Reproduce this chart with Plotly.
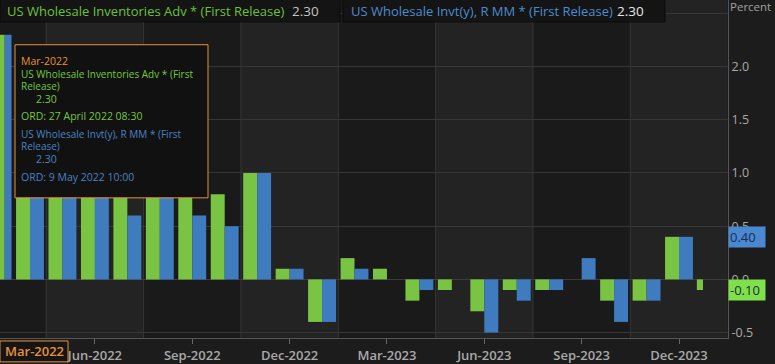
import plotly.graph_objects as go

months = ["Mar-2022", "Apr-2022", "May-2022", "Jun-2022", "Jul-2022", "Aug-2022",
          "Sep-2022", "Oct-2022", "Nov-2022", "Dec-2022", "Jan-2023", "Feb-2023",
          "Mar-2023", "Apr-2023", "May-2023", "Jun-2023", "Jul-2023", "Aug-2023",
          "Sep-2023", "Oct-2023", "Nov-2023", "Dec-2023", "Jan-2024"]
adv_values = [2.3, 2.1, 2.0, 1.9, 0.8, 1.3, 0.8, 0.8, 1.0, 0.1, -0.4, 0.2,
              0.1, -0.2, -0.1, -0.3, -0.1, -0.1, 0.0, -0.2, -0.2, 0.4, -0.1]
rmm_values = [2.3, 2.2, 1.8, 1.8, 0.6, 1.3, 0.6, 0.5, 1.0, 0.1, -0.4, 0.1,
              0.0, -0.1, 0.0, -0.5, -0.2, -0.1, 0.2, -0.4, -0.2, 0.4, None]
tick_labels = ["Jun-2022", "Sep-2022", "Dec-2022", "Mar-2023", "Jun-2023",
               "Sep-2023", "Dec-2023"]
y_ticks = [-0.5, 0.0, 0.5, 1.0, 1.5, 2.0, 2.5]

adv_name = "US Wholesale Inventories Adv * (First Release)"
rmm_name = "US Wholesale Invt(y), R MM * (First Release)"

GREEN = "#79c443"
BLUE = "#3f7cbf"
ORANGE = "#e8903c"
W, H = 775, 364
ML, MR, MT, MB = 0, 47, 0, 24
PW, PH = W - ML - MR, H - MT - MB

n = len(months)
bw = 0.43
# style: regular groups, with narrower edge groups as in the original
g_off = [-bw] * n
g_w = [bw] * n
b_off = [0.0] * n
b_w = [bw] * n
g_off[0], g_w[0] = 0.0, 0.22
b_off[0], b_w[0] = 0.22, 0.21
g_off[-1], g_w[-1] = -0.45, 0.19

fig = go.Figure()
fig.add_trace(go.Bar(x=months, y=adv_values, name=adv_name, marker_color=GREEN,
                     marker_line_width=0, offset=g_off, width=g_w))
fig.add_trace(go.Bar(x=months, y=rmm_values, name=rmm_name, marker_color=BLUE,
                     marker_line_width=0, offset=b_off, width=b_w))

shapes = []
# alternating bands
for a in [1.5, 7.5, 13.5, 19.5]:
    shapes.append(dict(type="rect", xref="x", yref="paper", x0=a, x1=a + 3, y0=0, y1=1,
                       fillcolor="#232323", line_width=0, layer="below"))
for a in [1.5, 4.5, 7.5, 10.5, 13.5, 16.5, 19.5]:
    shapes.append(dict(type="line", xref="x", yref="paper", x0=a, x1=a, y0=0, y1=1,
                       line=dict(color="#363636", width=1), layer="below"))


def px(xp):
    return xp / PW


def py(yp):
    return 1 - yp / PH


# header legend boxes
shapes.append(dict(type="rect", xref="paper", yref="paper", x0=px(0), x1=px(340),
                   y0=py(22), y1=py(-2), fillcolor="#141414",
                   line=dict(color="#0b0b0b", width=1), layer="above"))
shapes.append(dict(type="rect", xref="paper", yref="paper", x0=px(343), x1=px(665),
                   y0=py(22), y1=py(-2), fillcolor="#141414",
                   line=dict(color="#0b0b0b", width=1), layer="above"))
# tooltip box
shapes.append(dict(type="rect", xref="paper", yref="paper", x0=px(15), x1=px(208),
                   y0=py(199), y1=py(45), fillcolor="#111111",
                   line=dict(color=ORANGE, width=1), layer="above"))
# crosshair x label box
shapes.append(dict(type="rect", xref="paper", yref="paper", x0=px(0), x1=px(68),
                   y0=py(364), y1=py(343), fillcolor="#151515",
                   line=dict(color=ORANGE, width=1), layer="above"))

FONT = "Open Sans"
ann = []


def text(x, y, s, color, size, anchor="left", weight=None, **kw):
    f = dict(family=FONT, size=size, color=color)
    if weight:
        f["weight"] = weight
    ann.append(dict(x=px(x), y=py(y), xref="paper", yref="paper", text=s,
                    showarrow=False, xanchor=anchor, yanchor="middle", font=f, **kw))


# header legend texts
text(5, 11, adv_name, "#6cc23c", 13)
text(290, 11, f"{adv_values[0]:.2f}", "#c4c4c4", 13.5)
text(349, 11, rmm_name, "#4d8bd0", 13)
text(615, 11, f"{rmm_values[0]:.2f}", "#e6e6e6", 13.5)
text(728, 7, "Percent", "#a0a0a0", 11.5)

# tooltip texts
TG, TB = "#74c83e", "#4a82c4"
text(19, 61, months[0], ORANGE, 10.5)
text(19, 74, "US Wholesale Inventories Adv * (First", TG, 10)
text(19, 86.5, "Release)", TG, 10)
text(34, 99.5, f"{adv_values[0]:.2f}", TG, 10.5)
text(19, 117, "ORD: 27 April 2022 08:30", TG, 10.5)
text(19, 134.5, "US Wholesale Invt(y), R MM * (First", TB, 10)
text(19, 147, "Release)", TB, 10)
text(34, 160, f"{rmm_values[0]:.2f}", TB, 10.5)
text(19, 178, "ORD: 9 May 2022 10:00", TB, 10.5)

# crosshair x label
text(34, 353.5, months[0], ORANGE, 13, anchor="center", weight=600)

# last value tags on the right axis
ann.append(dict(x=1, y=rmm_values[-2], xref="paper", yref="y", text=f"{rmm_values[-2]:.2f}",
                showarrow=False, xanchor="left", yanchor="middle",
                bgcolor="#4a89d2", borderpad=1, width=34, align="left",
                font=dict(family=FONT, size=13, color="#1b2c55")))
ann.append(dict(x=1, y=adv_values[-1], xref="paper", yref="y", text=f"{adv_values[-1]:.2f}",
                showarrow=False, xanchor="left", yanchor="middle",
                bgcolor="#80e04a", borderpad=1, width=34, align="left",
                font=dict(family=FONT, size=13, color="#1b2c40")))

fig.update_layout(
    width=W, height=H,
    margin=dict(l=ML, r=MR, t=MT, b=MB),
    paper_bgcolor="#1c1c1c",
    plot_bgcolor="#1a1a1a",
    barmode="overlay",
    showlegend=False,
    hovermode=False,
    shapes=shapes,
    annotations=ann,
    xaxis=dict(type="category", categoryorder="array", categoryarray=months,
               range=[0.0755, 22.51], showgrid=False, zeroline=False,
               tickmode="array", tickvals=tick_labels, ticktext=tick_labels,
               ticks="outside", ticklen=5, tickcolor="#666666",
               tickfont=dict(family=FONT, size=13, color="#a9a9a9", weight=600),
               showline=True, linecolor="#555555", linewidth=1),
    yaxis=dict(side="right", range=[-0.551, 2.626], tickmode="array",
               tickvals=y_ticks, ticktext=["-0.5", "0.0", "0.5", "1.0", "1.5", "2.0", ""],
               showgrid=True, gridcolor="#363636", gridwidth=1,
               zeroline=True, zerolinecolor="#3c3c3c", zerolinewidth=1,
               tickfont=dict(family=FONT, size=12.5, color="#a9a9a9"),
               showline=True, linecolor="#555555", linewidth=1, ticks=""),
)

fig.write_html("out.html", config={"displayModeBar": False},
               post_script="document.body.style.margin='0px';document.body.style.overflow='hidden';")
